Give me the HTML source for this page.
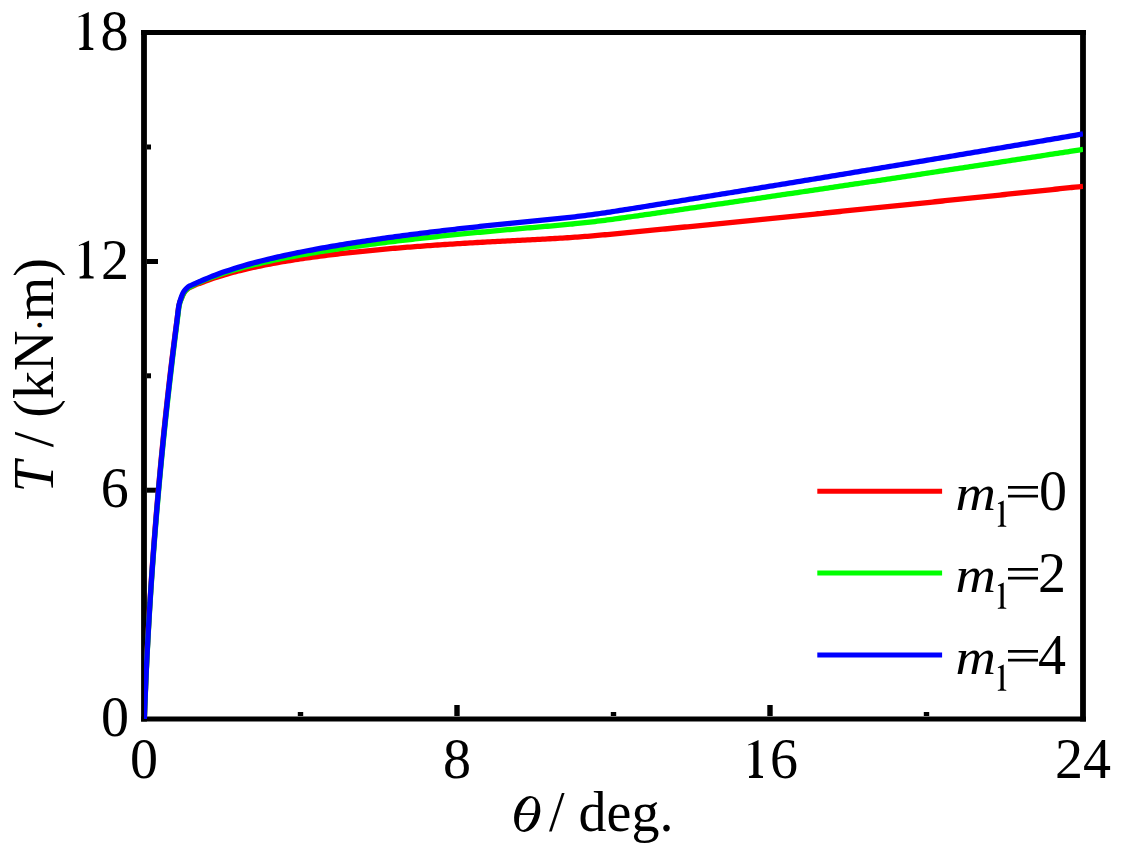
<!DOCTYPE html>
<html><head><meta charset="utf-8"><style>
html,body{margin:0;padding:0;background:#fff;}
svg{display:block;}
text{font-family:"Liberation Serif",serif;fill:#000;}
</style></head><body>
<svg width="1125" height="860" viewBox="0 0 1125 860">
<rect width="1125" height="860" fill="#fff"/>
<g stroke="#000" fill="none" stroke-linecap="butt">
<!-- y ticks -->
<line x1="147" y1="261.5" x2="158" y2="261.5" stroke-width="5"/>
<line x1="147" y1="490.2" x2="158" y2="490.2" stroke-width="5"/>
<line x1="147" y1="147" x2="151" y2="147" stroke-width="5"/>
<line x1="147" y1="375.8" x2="151" y2="375.8" stroke-width="5"/>
<line x1="147" y1="604.6" x2="151" y2="604.6" stroke-width="5"/>
<!-- x ticks -->
<line x1="457" y1="716" x2="457" y2="705" stroke-width="5.4"/>
<line x1="770" y1="716" x2="770" y2="705" stroke-width="5.4"/>
<line x1="300.5" y1="716" x2="300.5" y2="712" stroke-width="5.4"/>
<line x1="613.5" y1="716" x2="613.5" y2="712" stroke-width="5.4"/>
<line x1="926.5" y1="716" x2="926.5" y2="712" stroke-width="5.4"/>
</g>
<path d="M141.1 32.5 H1085.9 M141.1 719 H1085.9" stroke="#000" stroke-width="5.2"/>
<path d="M144 29.9 V721.6 M1083 29.9 V721.6" stroke="#000" stroke-width="5.8"/>
<clipPath id="pc"><rect x="144" y="32.5" width="939" height="686.5"/></clipPath>
<g fill="none" stroke-width="5.3" stroke-linejoin="round" stroke-linecap="butt" clip-path="url(#pc)">
<path d="M144.35 719.00 C144.47 715.83 144.79 706.50 145.04 700.00 C145.29 693.50 145.57 686.67 145.86 680.00 C146.15 673.33 146.45 666.67 146.77 660.00 C147.09 653.33 147.42 646.67 147.78 640.00 C148.13 633.33 148.49 626.67 148.88 620.00 C149.26 613.33 149.66 606.67 150.07 600.00 C150.49 593.33 150.92 586.67 151.36 580.00 C151.81 573.33 152.27 566.67 152.75 560.00 C153.22 553.33 153.72 546.67 154.23 540.00 C154.74 533.33 155.26 526.67 155.80 520.00 C156.34 513.33 156.90 506.67 157.47 500.00 C158.04 493.33 158.63 486.67 159.24 480.00 C159.84 473.33 160.46 466.67 161.09 460.00 C161.73 453.33 162.38 446.67 163.05 440.00 C163.71 433.33 164.40 426.67 165.10 420.00 C165.79 413.33 166.51 406.67 167.24 400.00 C167.97 393.33 168.71 386.67 169.48 380.00 C170.25 373.33 171.04 366.67 171.86 360.00 C172.68 353.33 173.52 346.67 174.37 340.00 C175.23 333.33 176.21 325.83 176.98 320.00 C177.75 314.17 178.21 308.72 179.00 305.00 C179.79 301.28 180.92 299.62 181.70 297.70 C182.48 295.78 183.03 294.68 183.70 293.50 C184.37 292.32 184.93 291.47 185.70 290.60 C186.47 289.73 187.50 288.87 188.30 288.30 C189.10 287.73 189.38 287.73 190.50 287.20 C191.62 286.67 193.42 285.79 195.00 285.13 C196.58 284.46 198.33 283.83 200.00 283.20 C201.67 282.56 203.33 281.92 205.00 281.30 C206.67 280.68 208.33 280.08 210.00 279.49 C211.67 278.91 213.33 278.34 215.00 277.78 C216.67 277.23 218.33 276.69 220.00 276.17 C221.67 275.65 223.33 275.14 225.00 274.65 C226.67 274.16 228.33 273.68 230.00 273.22 C231.67 272.75 233.33 272.30 235.00 271.86 C236.67 271.42 238.33 270.99 240.00 270.57 C241.67 270.16 243.33 269.75 245.00 269.35 C246.67 268.96 248.33 268.57 250.00 268.19 C251.67 267.81 253.33 267.44 255.00 267.08 C256.67 266.72 258.33 266.37 260.00 266.03 C261.67 265.68 263.33 265.35 265.00 265.02 C266.67 264.69 268.33 264.36 270.00 264.05 C271.67 263.73 273.33 263.42 275.00 263.12 C276.67 262.82 278.33 262.52 280.00 262.23 C281.67 261.94 283.33 261.65 285.00 261.37 C286.67 261.09 288.33 260.82 290.00 260.55 C291.67 260.28 293.33 260.01 295.00 259.75 C296.67 259.49 298.33 259.24 300.00 258.99 C301.67 258.74 303.33 258.49 305.00 258.25 C306.67 258.01 308.33 257.77 310.00 257.53 C311.67 257.30 313.33 257.07 315.00 256.84 C316.67 256.62 318.33 256.40 320.00 256.18 C321.67 255.96 323.33 255.74 325.00 255.53 C326.67 255.32 328.33 255.11 330.00 254.91 C331.67 254.70 333.33 254.50 335.00 254.30 C336.67 254.10 338.33 253.91 340.00 253.71 C341.67 253.52 343.33 253.33 345.00 253.14 C346.67 252.96 348.33 252.77 350.00 252.59 C351.67 252.41 353.33 252.23 355.00 252.05 C356.67 251.88 358.33 251.70 360.00 251.53 C361.67 251.36 363.33 251.19 365.00 251.02 C366.67 250.86 368.33 250.69 370.00 250.53 C371.67 250.37 373.33 250.21 375.00 250.05 C376.67 249.89 378.33 249.74 380.00 249.59 C381.67 249.43 383.33 249.28 385.00 249.13 C386.67 248.98 388.33 248.83 390.00 248.69 C391.67 248.54 393.33 248.40 395.00 248.26 C396.67 248.12 398.33 247.98 400.00 247.84 C401.67 247.70 403.33 247.57 405.00 247.43 C406.67 247.30 408.33 247.16 410.00 247.03 C411.67 246.90 413.33 246.77 415.00 246.65 C416.67 246.52 418.33 246.39 420.00 246.27 C421.67 246.14 423.33 246.02 425.00 245.90 C426.67 245.78 428.33 245.66 430.00 245.54 C431.67 245.42 433.33 245.30 435.00 245.19 C436.67 245.07 438.33 244.96 440.00 244.85 C441.67 244.73 443.33 244.62 445.00 244.51 C446.67 244.40 448.33 244.29 450.00 244.18 C451.67 244.07 453.33 243.97 455.00 243.86 C456.67 243.76 458.33 243.65 460.00 243.55 C461.67 243.45 463.33 243.35 465.00 243.25 C466.67 243.15 468.33 243.05 470.00 242.95 C471.67 242.85 473.33 242.75 475.00 242.66 C476.67 242.56 478.33 242.47 480.00 242.37 C481.67 242.28 483.33 242.19 485.00 242.10 C486.67 242.00 488.33 241.91 490.00 241.82 C491.67 241.73 493.33 241.64 495.00 241.56 C496.67 241.47 498.33 241.38 500.00 241.29 C501.67 241.21 503.33 241.12 505.00 241.04 C506.67 240.95 508.33 240.87 510.00 240.78 C511.67 240.70 513.33 240.61 515.00 240.53 C516.67 240.45 518.33 240.37 520.00 240.28 C521.67 240.20 523.33 240.12 525.00 240.04 C526.67 239.96 528.33 239.87 530.00 239.79 C531.67 239.71 533.33 239.63 535.00 239.54 C536.67 239.46 538.33 239.38 540.00 239.29 C541.67 239.21 543.33 239.12 545.00 239.04 C546.67 238.95 548.33 238.86 550.00 238.77 C551.67 238.68 553.33 238.59 555.00 238.50 C556.67 238.40 558.33 238.31 560.00 238.21 C561.67 238.11 563.33 238.01 565.00 237.90 C566.67 237.80 568.33 237.69 570.00 237.58 C571.67 237.46 573.33 237.35 575.00 237.23 C576.67 237.11 578.33 236.99 580.00 236.86 C581.67 236.74 583.33 236.61 585.00 236.48 C586.67 236.35 588.33 236.21 590.00 236.07 C591.67 235.93 593.33 235.79 595.00 235.65 C596.67 235.50 598.33 235.36 600.00 235.21 C601.67 235.06 603.33 234.91 605.00 234.76 C606.67 234.61 608.33 234.46 610.00 234.30 C611.67 234.15 613.33 233.99 615.00 233.84 C616.67 233.68 618.33 233.52 620.00 233.36 C621.67 233.20 623.33 233.04 625.00 232.88 C626.67 232.73 628.33 232.56 630.00 232.40 C631.67 232.24 633.33 232.08 635.00 231.92 C636.67 231.76 638.33 231.60 640.00 231.43 C641.67 231.27 643.33 231.11 645.00 230.95 C646.67 230.78 648.33 230.62 650.00 230.46 C651.67 230.30 653.33 230.13 655.00 229.97 C656.67 229.80 658.33 229.64 660.00 229.48 C661.67 229.31 663.33 229.15 665.00 228.99 C666.67 228.82 668.33 228.66 670.00 228.49 C671.67 228.33 673.33 228.17 675.00 228.00 C676.67 227.84 678.33 227.67 680.00 227.51 C681.67 227.34 683.33 227.18 685.00 227.01 C686.67 226.85 688.33 226.69 690.00 226.52 C691.67 226.36 693.33 226.19 695.00 226.03 C696.67 225.86 698.33 225.70 700.00 225.53 C701.67 225.37 703.33 225.20 705.00 225.04 C706.67 224.87 708.33 224.70 710.00 224.54 C711.67 224.37 713.33 224.21 715.00 224.04 C716.67 223.88 718.33 223.71 720.00 223.55 C721.67 223.38 723.33 223.21 725.00 223.05 C726.67 222.88 728.33 222.72 730.00 222.55 C731.67 222.38 733.33 222.22 735.00 222.05 C736.67 221.89 738.33 221.72 740.00 221.55 C741.67 221.39 743.33 221.22 745.00 221.05 C746.67 220.89 748.33 220.72 750.00 220.56 C751.67 220.39 753.33 220.22 755.00 220.06 C756.67 219.89 758.33 219.72 760.00 219.55 C761.67 219.39 763.33 219.22 765.00 219.05 C766.67 218.89 768.33 218.72 770.00 218.55 C771.67 218.39 773.33 218.22 775.00 218.05 C776.67 217.88 778.33 217.72 780.00 217.55 C781.67 217.38 783.33 217.21 785.00 217.05 C786.67 216.88 788.33 216.71 790.00 216.54 C791.67 216.38 793.33 216.21 795.00 216.04 C796.67 215.87 798.33 215.70 800.00 215.54 C801.67 215.37 803.33 215.20 805.00 215.03 C806.67 214.86 808.33 214.70 810.00 214.53 C811.67 214.36 813.33 214.19 815.00 214.02 C816.67 213.85 818.33 213.68 820.00 213.52 C821.67 213.35 823.33 213.18 825.00 213.01 C826.67 212.84 828.33 212.67 830.00 212.50 C831.67 212.33 833.33 212.17 835.00 212.00 C836.67 211.83 838.33 211.66 840.00 211.49 C841.67 211.32 843.33 211.15 845.00 210.98 C846.67 210.81 848.33 210.64 850.00 210.47 C851.67 210.30 853.33 210.13 855.00 209.96 C856.67 209.79 858.33 209.62 860.00 209.45 C861.67 209.28 863.33 209.11 865.00 208.95 C866.67 208.78 868.33 208.61 870.00 208.43 C871.67 208.26 873.33 208.09 875.00 207.92 C876.67 207.75 878.33 207.58 880.00 207.41 C881.67 207.24 883.33 207.07 885.00 206.90 C886.67 206.73 888.33 206.56 890.00 206.39 C891.67 206.22 893.33 206.05 895.00 205.88 C896.67 205.71 898.33 205.54 900.00 205.37 C901.67 205.19 903.33 205.02 905.00 204.85 C906.67 204.68 908.33 204.51 910.00 204.34 C911.67 204.17 913.33 204.00 915.00 203.82 C916.67 203.65 918.33 203.48 920.00 203.31 C921.67 203.14 923.33 202.97 925.00 202.80 C926.67 202.62 928.33 202.45 930.00 202.28 C931.67 202.11 933.33 201.94 935.00 201.76 C936.67 201.59 938.33 201.42 940.00 201.25 C941.67 201.08 943.33 200.90 945.00 200.73 C946.67 200.56 948.33 200.39 950.00 200.21 C951.67 200.04 953.33 199.87 955.00 199.70 C956.67 199.52 958.33 199.35 960.00 199.18 C961.67 199.01 963.33 198.83 965.00 198.66 C966.67 198.49 968.33 198.31 970.00 198.14 C971.67 197.97 973.33 197.80 975.00 197.62 C976.67 197.45 978.33 197.28 980.00 197.10 C981.67 196.93 983.33 196.76 985.00 196.58 C986.67 196.41 988.33 196.24 990.00 196.06 C991.67 195.89 993.33 195.71 995.00 195.54 C996.67 195.37 998.33 195.19 1000.00 195.02 C1001.67 194.85 1003.33 194.67 1005.00 194.50 C1006.67 194.32 1008.33 194.15 1010.00 193.98 C1011.67 193.80 1013.33 193.63 1015.00 193.45 C1016.67 193.28 1018.33 193.10 1020.00 192.93 C1021.67 192.75 1023.33 192.58 1025.00 192.41 C1026.67 192.23 1028.33 192.06 1030.00 191.88 C1031.67 191.71 1033.33 191.53 1035.00 191.36 C1036.67 191.18 1038.33 191.01 1040.00 190.83 C1041.67 190.66 1043.33 190.48 1045.00 190.31 C1046.67 190.13 1048.33 189.96 1050.00 189.78 C1051.67 189.61 1053.33 189.43 1055.00 189.25 C1056.67 189.08 1058.33 188.90 1060.00 188.73 C1061.67 188.55 1063.33 188.38 1065.00 188.20 C1066.67 188.02 1068.33 187.85 1070.00 187.67 C1071.67 187.50 1072.83 187.37 1075.00 187.15 C1077.17 186.92 1081.67 186.44 1083.00 186.30" stroke="#ff0000"/>
<path d="M144.35 719.00 C144.47 715.83 144.81 706.50 145.07 700.00 C145.33 693.50 145.62 686.67 145.92 680.00 C146.22 673.33 146.53 666.67 146.87 660.00 C147.20 653.33 147.54 646.67 147.90 640.00 C148.27 633.33 148.64 626.67 149.04 620.00 C149.43 613.33 149.84 606.67 150.26 600.00 C150.69 593.33 151.13 586.67 151.59 580.00 C152.04 573.33 152.52 566.67 153.01 560.00 C153.49 553.33 154.00 546.67 154.52 540.00 C155.04 533.33 155.57 526.67 156.12 520.00 C156.68 513.33 157.24 506.67 157.83 500.00 C158.41 493.33 159.01 486.67 159.62 480.00 C160.24 473.33 160.87 466.67 161.51 460.00 C162.16 453.33 162.82 446.67 163.50 440.00 C164.18 433.33 164.87 426.67 165.58 420.00 C166.29 413.33 167.02 406.67 167.76 400.00 C168.50 393.33 169.26 386.67 170.03 380.00 C170.80 373.33 171.58 366.67 172.37 360.00 C173.17 353.33 173.99 346.67 174.82 340.00 C175.65 333.33 176.60 325.83 177.35 320.00 C178.10 314.17 178.56 308.80 179.32 305.00 C180.08 301.20 181.15 299.22 181.90 297.20 C182.65 295.18 183.13 294.08 183.80 292.90 C184.47 291.72 185.13 290.95 185.90 290.10 C186.67 289.25 187.63 288.37 188.40 287.80 C189.17 287.23 189.40 287.32 190.50 286.70 C191.60 286.08 193.42 284.89 195.00 284.09 C196.58 283.30 198.33 282.65 200.00 281.95 C201.67 281.26 203.33 280.57 205.00 279.90 C206.67 279.23 208.33 278.59 210.00 277.96 C211.67 277.33 213.33 276.72 215.00 276.13 C216.67 275.54 218.33 274.96 220.00 274.40 C221.67 273.84 223.33 273.30 225.00 272.77 C226.67 272.24 228.33 271.73 230.00 271.22 C231.67 270.72 233.33 270.23 235.00 269.75 C236.67 269.27 238.33 268.81 240.00 268.35 C241.67 267.89 243.33 267.45 245.00 267.01 C246.67 266.57 248.33 266.15 250.00 265.73 C251.67 265.31 253.33 264.90 255.00 264.50 C256.67 264.10 258.33 263.70 260.00 263.31 C261.67 262.93 263.33 262.55 265.00 262.17 C266.67 261.80 268.33 261.43 270.00 261.07 C271.67 260.71 273.33 260.36 275.00 260.01 C276.67 259.66 278.33 259.32 280.00 258.98 C281.67 258.64 283.33 258.31 285.00 257.98 C286.67 257.65 288.33 257.33 290.00 257.01 C291.67 256.70 293.33 256.38 295.00 256.07 C296.67 255.77 298.33 255.46 300.00 255.16 C301.67 254.86 303.33 254.57 305.00 254.27 C306.67 253.98 308.33 253.69 310.00 253.41 C311.67 253.12 313.33 252.84 315.00 252.56 C316.67 252.29 318.33 252.01 320.00 251.74 C321.67 251.47 323.33 251.20 325.00 250.94 C326.67 250.67 328.33 250.41 330.00 250.15 C331.67 249.89 333.33 249.64 335.00 249.38 C336.67 249.13 338.33 248.88 340.00 248.63 C341.67 248.39 343.33 248.14 345.00 247.90 C346.67 247.66 348.33 247.42 350.00 247.18 C351.67 246.94 353.33 246.71 355.00 246.48 C356.67 246.24 358.33 246.01 360.00 245.79 C361.67 245.56 363.33 245.33 365.00 245.11 C366.67 244.88 368.33 244.66 370.00 244.44 C371.67 244.22 373.33 244.01 375.00 243.79 C376.67 243.57 378.33 243.36 380.00 243.15 C381.67 242.94 383.33 242.73 385.00 242.52 C386.67 242.31 388.33 242.11 390.00 241.90 C391.67 241.70 393.33 241.49 395.00 241.29 C396.67 241.09 398.33 240.89 400.00 240.70 C401.67 240.50 403.33 240.30 405.00 240.11 C406.67 239.91 408.33 239.72 410.00 239.53 C411.67 239.34 413.33 239.15 415.00 238.96 C416.67 238.77 418.33 238.58 420.00 238.40 C421.67 238.21 423.33 238.03 425.00 237.84 C426.67 237.66 428.33 237.48 430.00 237.30 C431.67 237.12 433.33 236.94 435.00 236.76 C436.67 236.59 438.33 236.41 440.00 236.23 C441.67 236.06 443.33 235.89 445.00 235.71 C446.67 235.54 448.33 235.37 450.00 235.20 C451.67 235.03 453.33 234.86 455.00 234.69 C456.67 234.52 458.33 234.35 460.00 234.19 C461.67 234.02 463.33 233.86 465.00 233.69 C466.67 233.53 468.33 233.37 470.00 233.21 C471.67 233.04 473.33 232.88 475.00 232.72 C476.67 232.56 478.33 232.41 480.00 232.25 C481.67 232.09 483.33 231.93 485.00 231.78 C486.67 231.62 488.33 231.47 490.00 231.31 C491.67 231.16 493.33 231.01 495.00 230.85 C496.67 230.70 498.33 230.55 500.00 230.40 C501.67 230.25 503.33 230.10 505.00 229.95 C506.67 229.80 508.33 229.65 510.00 229.50 C511.67 229.36 513.33 229.21 515.00 229.06 C516.67 228.92 518.33 228.77 520.00 228.63 C521.67 228.48 523.33 228.34 525.00 228.19 C526.67 228.05 528.33 227.90 530.00 227.76 C531.67 227.62 533.33 227.47 535.00 227.33 C536.67 227.19 538.33 227.04 540.00 226.90 C541.67 226.76 543.33 226.61 545.00 226.47 C546.67 226.33 548.33 226.18 550.00 226.04 C551.67 225.89 553.33 225.75 555.00 225.60 C556.67 225.45 558.33 225.30 560.00 225.15 C561.67 225.00 563.33 224.85 565.00 224.70 C566.67 224.54 568.33 224.38 570.00 224.22 C571.67 224.06 573.33 223.90 575.00 223.73 C576.67 223.56 578.33 223.39 580.00 223.22 C581.67 223.04 583.33 222.86 585.00 222.68 C586.67 222.49 588.33 222.31 590.00 222.11 C591.67 221.92 593.33 221.72 595.00 221.52 C596.67 221.32 598.33 221.11 600.00 220.90 C601.67 220.69 603.33 220.48 605.00 220.26 C606.67 220.05 608.33 219.83 610.00 219.61 C611.67 219.38 613.33 219.16 615.00 218.93 C616.67 218.71 618.33 218.48 620.00 218.25 C621.67 218.02 623.33 217.79 625.00 217.55 C626.67 217.32 628.33 217.09 630.00 216.85 C631.67 216.62 633.33 216.38 635.00 216.15 C636.67 215.91 638.33 215.67 640.00 215.44 C641.67 215.20 643.33 214.96 645.00 214.72 C646.67 214.48 648.33 214.25 650.00 214.01 C651.67 213.77 653.33 213.53 655.00 213.29 C656.67 213.05 658.33 212.81 660.00 212.57 C661.67 212.33 663.33 212.09 665.00 211.85 C666.67 211.61 668.33 211.37 670.00 211.13 C671.67 210.89 673.33 210.65 675.00 210.41 C676.67 210.17 678.33 209.93 680.00 209.68 C681.67 209.44 683.33 209.20 685.00 208.96 C686.67 208.72 688.33 208.48 690.00 208.24 C691.67 208.00 693.33 207.75 695.00 207.51 C696.67 207.27 698.33 207.03 700.00 206.79 C701.67 206.54 703.33 206.30 705.00 206.06 C706.67 205.82 708.33 205.58 710.00 205.33 C711.67 205.09 713.33 204.85 715.00 204.61 C716.67 204.36 718.33 204.12 720.00 203.88 C721.67 203.64 723.33 203.39 725.00 203.15 C726.67 202.91 728.33 202.66 730.00 202.42 C731.67 202.18 733.33 201.93 735.00 201.69 C736.67 201.45 738.33 201.20 740.00 200.96 C741.67 200.72 743.33 200.47 745.00 200.23 C746.67 199.98 748.33 199.74 750.00 199.50 C751.67 199.25 753.33 199.01 755.00 198.76 C756.67 198.52 758.33 198.28 760.00 198.03 C761.67 197.79 763.33 197.54 765.00 197.30 C766.67 197.05 768.33 196.81 770.00 196.56 C771.67 196.32 773.33 196.07 775.00 195.83 C776.67 195.58 778.33 195.34 780.00 195.09 C781.67 194.85 783.33 194.60 785.00 194.36 C786.67 194.11 788.33 193.87 790.00 193.62 C791.67 193.38 793.33 193.13 795.00 192.88 C796.67 192.64 798.33 192.39 800.00 192.15 C801.67 191.90 803.33 191.65 805.00 191.41 C806.67 191.16 808.33 190.92 810.00 190.67 C811.67 190.42 813.33 190.18 815.00 189.93 C816.67 189.68 818.33 189.44 820.00 189.19 C821.67 188.94 823.33 188.70 825.00 188.45 C826.67 188.20 828.33 187.95 830.00 187.71 C831.67 187.46 833.33 187.21 835.00 186.97 C836.67 186.72 838.33 186.47 840.00 186.22 C841.67 185.97 843.33 185.73 845.00 185.48 C846.67 185.23 848.33 184.98 850.00 184.74 C851.67 184.49 853.33 184.24 855.00 183.99 C856.67 183.74 858.33 183.49 860.00 183.25 C861.67 183.00 863.33 182.75 865.00 182.50 C866.67 182.25 868.33 182.00 870.00 181.75 C871.67 181.51 873.33 181.26 875.00 181.01 C876.67 180.76 878.33 180.51 880.00 180.26 C881.67 180.01 883.33 179.76 885.00 179.51 C886.67 179.26 888.33 179.01 890.00 178.76 C891.67 178.51 893.33 178.26 895.00 178.01 C896.67 177.76 898.33 177.51 900.00 177.26 C901.67 177.01 903.33 176.76 905.00 176.51 C906.67 176.26 908.33 176.01 910.00 175.76 C911.67 175.51 913.33 175.26 915.00 175.01 C916.67 174.76 918.33 174.51 920.00 174.26 C921.67 174.01 923.33 173.76 925.00 173.50 C926.67 173.25 928.33 173.00 930.00 172.75 C931.67 172.50 933.33 172.25 935.00 172.00 C936.67 171.75 938.33 171.49 940.00 171.24 C941.67 170.99 943.33 170.74 945.00 170.49 C946.67 170.24 948.33 169.98 950.00 169.73 C951.67 169.48 953.33 169.23 955.00 168.97 C956.67 168.72 958.33 168.47 960.00 168.22 C961.67 167.96 963.33 167.71 965.00 167.46 C966.67 167.21 968.33 166.95 970.00 166.70 C971.67 166.45 973.33 166.20 975.00 165.94 C976.67 165.69 978.33 165.44 980.00 165.18 C981.67 164.93 983.33 164.68 985.00 164.42 C986.67 164.17 988.33 163.92 990.00 163.66 C991.67 163.41 993.33 163.15 995.00 162.90 C996.67 162.65 998.33 162.39 1000.00 162.14 C1001.67 161.88 1003.33 161.63 1005.00 161.38 C1006.67 161.12 1008.33 160.87 1010.00 160.61 C1011.67 160.36 1013.33 160.10 1015.00 159.85 C1016.67 159.59 1018.33 159.34 1020.00 159.08 C1021.67 158.83 1023.33 158.57 1025.00 158.32 C1026.67 158.06 1028.33 157.81 1030.00 157.55 C1031.67 157.30 1033.33 157.04 1035.00 156.79 C1036.67 156.53 1038.33 156.28 1040.00 156.02 C1041.67 155.76 1043.33 155.51 1045.00 155.25 C1046.67 155.00 1048.33 154.74 1050.00 154.48 C1051.67 154.23 1053.33 153.97 1055.00 153.72 C1056.67 153.46 1058.33 153.20 1060.00 152.95 C1061.67 152.69 1063.33 152.43 1065.00 152.18 C1066.67 151.92 1068.33 151.66 1070.00 151.41 C1071.67 151.15 1072.83 150.97 1075.00 150.63 C1077.17 150.30 1081.67 149.61 1083.00 149.40" stroke="#00ff00"/>
<path d="M144.35 719.00 C144.47 715.83 144.80 706.50 145.06 700.00 C145.31 693.50 145.59 686.67 145.89 680.00 C146.18 673.33 146.49 666.67 146.81 660.00 C147.14 653.33 147.48 646.67 147.83 640.00 C148.19 633.33 148.56 626.67 148.95 620.00 C149.34 613.33 149.74 606.67 150.16 600.00 C150.58 593.33 151.01 586.67 151.46 580.00 C151.92 573.33 152.38 566.67 152.86 560.00 C153.35 553.33 153.85 546.67 154.36 540.00 C154.87 533.33 155.40 526.67 155.95 520.00 C156.49 513.33 157.06 506.67 157.63 500.00 C158.21 493.33 158.80 486.67 159.41 480.00 C160.02 473.33 160.64 466.67 161.29 460.00 C161.93 453.33 162.58 446.67 163.25 440.00 C163.93 433.33 164.61 426.67 165.32 420.00 C166.02 413.33 166.74 406.67 167.47 400.00 C168.21 393.33 168.96 386.67 169.73 380.00 C170.49 373.33 171.28 366.67 172.07 360.00 C172.87 353.33 173.69 346.67 174.52 340.00 C175.35 333.33 176.30 325.83 177.05 320.00 C177.80 314.17 178.28 308.90 179.02 305.00 C179.76 301.10 180.77 298.72 181.50 296.60 C182.23 294.48 182.73 293.48 183.40 292.30 C184.07 291.12 184.73 290.38 185.50 289.50 C186.27 288.62 187.25 287.62 188.00 287.00 C188.75 286.38 188.83 286.37 190.00 285.80 C191.17 285.23 193.33 284.33 195.00 283.59 C196.67 282.85 198.33 282.11 200.00 281.38 C201.67 280.65 203.33 279.92 205.00 279.22 C206.67 278.52 208.33 277.83 210.00 277.16 C211.67 276.49 213.33 275.83 215.00 275.20 C216.67 274.56 218.33 273.94 220.00 273.34 C221.67 272.74 223.33 272.15 225.00 271.58 C226.67 271.00 228.33 270.44 230.00 269.90 C231.67 269.35 233.33 268.82 235.00 268.30 C236.67 267.78 238.33 267.27 240.00 266.77 C241.67 266.27 243.33 265.78 245.00 265.31 C246.67 264.83 248.33 264.36 250.00 263.90 C251.67 263.44 253.33 262.99 255.00 262.55 C256.67 262.11 258.33 261.68 260.00 261.25 C261.67 260.82 263.33 260.40 265.00 259.99 C266.67 259.58 268.33 259.18 270.00 258.78 C271.67 258.38 273.33 257.99 275.00 257.61 C276.67 257.22 278.33 256.84 280.00 256.47 C281.67 256.10 283.33 255.73 285.00 255.37 C286.67 255.00 288.33 254.65 290.00 254.29 C291.67 253.94 293.33 253.60 295.00 253.25 C296.67 252.91 298.33 252.57 300.00 252.24 C301.67 251.91 303.33 251.58 305.00 251.25 C306.67 250.93 308.33 250.61 310.00 250.29 C311.67 249.97 313.33 249.66 315.00 249.35 C316.67 249.04 318.33 248.74 320.00 248.43 C321.67 248.13 323.33 247.83 325.00 247.54 C326.67 247.24 328.33 246.95 330.00 246.66 C331.67 246.37 333.33 246.09 335.00 245.81 C336.67 245.52 338.33 245.24 340.00 244.97 C341.67 244.69 343.33 244.42 345.00 244.15 C346.67 243.87 348.33 243.61 350.00 243.34 C351.67 243.07 353.33 242.81 355.00 242.55 C356.67 242.29 358.33 242.03 360.00 241.78 C361.67 241.52 363.33 241.27 365.00 241.02 C366.67 240.77 368.33 240.52 370.00 240.27 C371.67 240.02 373.33 239.78 375.00 239.54 C376.67 239.29 378.33 239.05 380.00 238.82 C381.67 238.58 383.33 238.34 385.00 238.11 C386.67 237.87 388.33 237.64 390.00 237.41 C391.67 237.18 393.33 236.95 395.00 236.73 C396.67 236.50 398.33 236.28 400.00 236.05 C401.67 235.83 403.33 235.61 405.00 235.39 C406.67 235.17 408.33 234.95 410.00 234.74 C411.67 234.52 413.33 234.31 415.00 234.09 C416.67 233.88 418.33 233.67 420.00 233.46 C421.67 233.25 423.33 233.04 425.00 232.83 C426.67 232.63 428.33 232.42 430.00 232.22 C431.67 232.02 433.33 231.81 435.00 231.61 C436.67 231.41 438.33 231.21 440.00 231.01 C441.67 230.81 443.33 230.62 445.00 230.42 C446.67 230.23 448.33 230.03 450.00 229.84 C451.67 229.64 453.33 229.45 455.00 229.26 C456.67 229.07 458.33 228.88 460.00 228.69 C461.67 228.51 463.33 228.32 465.00 228.13 C466.67 227.95 468.33 227.76 470.00 227.58 C471.67 227.39 473.33 227.21 475.00 227.03 C476.67 226.85 478.33 226.67 480.00 226.49 C481.67 226.31 483.33 226.13 485.00 225.95 C486.67 225.78 488.33 225.60 490.00 225.43 C491.67 225.25 493.33 225.08 495.00 224.90 C496.67 224.73 498.33 224.56 500.00 224.39 C501.67 224.21 503.33 224.04 505.00 223.87 C506.67 223.70 508.33 223.54 510.00 223.37 C511.67 223.20 513.33 223.03 515.00 222.86 C516.67 222.70 518.33 222.53 520.00 222.37 C521.67 222.20 523.33 222.04 525.00 221.87 C526.67 221.71 528.33 221.54 530.00 221.38 C531.67 221.22 533.33 221.05 535.00 220.89 C536.67 220.73 538.33 220.56 540.00 220.40 C541.67 220.24 543.33 220.07 545.00 219.91 C546.67 219.75 548.33 219.58 550.00 219.42 C551.67 219.25 553.33 219.09 555.00 218.92 C556.67 218.75 558.33 218.58 560.00 218.41 C561.67 218.24 563.33 218.06 565.00 217.88 C566.67 217.71 568.33 217.53 570.00 217.34 C571.67 217.16 573.33 216.97 575.00 216.78 C576.67 216.58 578.33 216.38 580.00 216.18 C581.67 215.98 583.33 215.77 585.00 215.56 C586.67 215.34 588.33 215.12 590.00 214.90 C591.67 214.68 593.33 214.45 595.00 214.22 C596.67 213.98 598.33 213.74 600.00 213.50 C601.67 213.26 603.33 213.02 605.00 212.77 C606.67 212.52 608.33 212.27 610.00 212.01 C611.67 211.76 613.33 211.51 615.00 211.25 C616.67 210.99 618.33 210.73 620.00 210.47 C621.67 210.21 623.33 209.95 625.00 209.68 C626.67 209.42 628.33 209.16 630.00 208.89 C631.67 208.63 633.33 208.36 635.00 208.10 C636.67 207.83 638.33 207.56 640.00 207.30 C641.67 207.03 643.33 206.76 645.00 206.50 C646.67 206.23 648.33 205.96 650.00 205.69 C651.67 205.43 653.33 205.16 655.00 204.89 C656.67 204.62 658.33 204.35 660.00 204.09 C661.67 203.82 663.33 203.55 665.00 203.28 C666.67 203.01 668.33 202.74 670.00 202.47 C671.67 202.20 673.33 201.94 675.00 201.67 C676.67 201.40 678.33 201.13 680.00 200.86 C681.67 200.59 683.33 200.32 685.00 200.05 C686.67 199.78 688.33 199.51 690.00 199.24 C691.67 198.97 693.33 198.70 695.00 198.43 C696.67 198.16 698.33 197.89 700.00 197.62 C701.67 197.35 703.33 197.08 705.00 196.81 C706.67 196.54 708.33 196.27 710.00 196.00 C711.67 195.73 713.33 195.46 715.00 195.19 C716.67 194.91 718.33 194.64 720.00 194.37 C721.67 194.10 723.33 193.83 725.00 193.56 C726.67 193.29 728.33 193.02 730.00 192.75 C731.67 192.47 733.33 192.20 735.00 191.93 C736.67 191.66 738.33 191.39 740.00 191.12 C741.67 190.85 743.33 190.57 745.00 190.30 C746.67 190.03 748.33 189.76 750.00 189.49 C751.67 189.21 753.33 188.94 755.00 188.67 C756.67 188.40 758.33 188.12 760.00 187.85 C761.67 187.58 763.33 187.31 765.00 187.03 C766.67 186.76 768.33 186.49 770.00 186.22 C771.67 185.94 773.33 185.67 775.00 185.40 C776.67 185.13 778.33 184.85 780.00 184.58 C781.67 184.31 783.33 184.03 785.00 183.76 C786.67 183.49 788.33 183.21 790.00 182.94 C791.67 182.67 793.33 182.39 795.00 182.12 C796.67 181.84 798.33 181.57 800.00 181.30 C801.67 181.02 803.33 180.75 805.00 180.48 C806.67 180.20 808.33 179.93 810.00 179.65 C811.67 179.38 813.33 179.10 815.00 178.83 C816.67 178.56 818.33 178.28 820.00 178.01 C821.67 177.73 823.33 177.46 825.00 177.18 C826.67 176.91 828.33 176.63 830.00 176.36 C831.67 176.08 833.33 175.81 835.00 175.53 C836.67 175.26 838.33 174.98 840.00 174.71 C841.67 174.43 843.33 174.16 845.00 173.88 C846.67 173.61 848.33 173.33 850.00 173.05 C851.67 172.78 853.33 172.50 855.00 172.23 C856.67 171.95 858.33 171.68 860.00 171.40 C861.67 171.12 863.33 170.85 865.00 170.57 C866.67 170.29 868.33 170.02 870.00 169.74 C871.67 169.47 873.33 169.19 875.00 168.91 C876.67 168.64 878.33 168.36 880.00 168.08 C881.67 167.81 883.33 167.53 885.00 167.25 C886.67 166.98 888.33 166.70 890.00 166.42 C891.67 166.14 893.33 165.87 895.00 165.59 C896.67 165.31 898.33 165.03 900.00 164.76 C901.67 164.48 903.33 164.20 905.00 163.92 C906.67 163.65 908.33 163.37 910.00 163.09 C911.67 162.81 913.33 162.54 915.00 162.26 C916.67 161.98 918.33 161.70 920.00 161.42 C921.67 161.15 923.33 160.87 925.00 160.59 C926.67 160.31 928.33 160.03 930.00 159.75 C931.67 159.47 933.33 159.20 935.00 158.92 C936.67 158.64 938.33 158.36 940.00 158.08 C941.67 157.80 943.33 157.52 945.00 157.24 C946.67 156.96 948.33 156.69 950.00 156.41 C951.67 156.13 953.33 155.85 955.00 155.57 C956.67 155.29 958.33 155.01 960.00 154.73 C961.67 154.45 963.33 154.17 965.00 153.89 C966.67 153.61 968.33 153.33 970.00 153.05 C971.67 152.77 973.33 152.49 975.00 152.21 C976.67 151.93 978.33 151.65 980.00 151.37 C981.67 151.09 983.33 150.81 985.00 150.53 C986.67 150.25 988.33 149.97 990.00 149.69 C991.67 149.40 993.33 149.12 995.00 148.84 C996.67 148.56 998.33 148.28 1000.00 148.00 C1001.67 147.72 1003.33 147.44 1005.00 147.16 C1006.67 146.88 1008.33 146.59 1010.00 146.31 C1011.67 146.03 1013.33 145.75 1015.00 145.47 C1016.67 145.19 1018.33 144.90 1020.00 144.62 C1021.67 144.34 1023.33 144.06 1025.00 143.78 C1026.67 143.49 1028.33 143.21 1030.00 142.93 C1031.67 142.65 1033.33 142.37 1035.00 142.08 C1036.67 141.80 1038.33 141.52 1040.00 141.24 C1041.67 140.95 1043.33 140.67 1045.00 140.39 C1046.67 140.11 1048.33 139.82 1050.00 139.54 C1051.67 139.26 1053.33 138.97 1055.00 138.69 C1056.67 138.41 1058.33 138.12 1060.00 137.84 C1061.67 137.56 1063.33 137.27 1065.00 136.99 C1066.67 136.71 1068.33 136.42 1070.00 136.14 C1071.67 135.86 1072.83 135.66 1075.00 135.29 C1077.17 134.92 1081.67 134.15 1083.00 133.93" stroke="#0000ff"/>
</g>
<!-- legend -->
<g stroke-width="5">
<line x1="817.3" y1="491.3" x2="942.1" y2="491.3" stroke="#ff0000"/>
<line x1="817.3" y1="573.1" x2="942.1" y2="573.1" stroke="#00ff00"/>
<line x1="817.3" y1="654.9" x2="942.1" y2="654.9" stroke="#0000ff"/>
</g>
<g font-size="56">
<text transform="translate(955.6,510.3) scale(1,0.915)" font-style="italic">m</text>
<text transform="translate(955.6,592.3) scale(1,0.915)" font-style="italic">m</text>
<text transform="translate(955.6,674.3) scale(1,0.915)" font-style="italic">m</text>
<path id="one" d="M1003.7 500.4 L1003.7 524.6 Q1003.8 525.9 1006.3 526.0 L1006.3 526.8 L997.8 526.8 L997.8 526.0 Q1000.4 525.9 1000.5 524.6 L1000.5 505.2 Q1000.5 503.6 999.4 503.7 L998.1 504.0 L997.8 503.3 Z"/>
<use href="#one" y="82"/>
<use href="#one" y="164"/>
<rect x="1008" y="486" width="30" height="2.7"/>
<rect x="1008" y="494.8" width="30" height="2.7"/>
<rect x="1008" y="568" width="30" height="2.7"/>
<rect x="1008" y="576.8" width="30" height="2.7"/>
<rect x="1008" y="650" width="30" height="2.7"/>
<rect x="1008" y="658.8" width="30" height="2.7"/>
<text x="1039" y="510">0</text>
<text x="1038" y="592">2</text>
<text x="1038" y="674">4</text>
</g>
<g font-size="56" text-anchor="end">
<text x="128.6" y="50">8</text>
<text x="129" y="278.5">2</text>
<text x="128.8" y="507">6</text>
<text x="128.9" y="735.5">0</text>
</g>
<path id="one1" d="M9.5 -38 L9.5 -4 Q9.6 -2.3 14 -2.1 L14 0 L0 0 L0 -2.1 Q4.2 -2.3 4.3 -4 L4.3 -33.0 Q2.5 -34.0 -0.5 -32.6 L-0.9 -33.3 Z" transform="translate(79.3,50)"/>
<use href="#one1" x="0.3" y="228.5"/>
<use href="#one1" x="669.7" y="728"/>
<g font-size="56" text-anchor="middle">
<text x="144" y="778">0</text>
<text x="457" y="778">8</text>
<text x="770" y="778" text-anchor="start">6</text>
<text x="1083" y="778">24</text>
</g>
<g transform="translate(527.2,814) rotate(17.8)"><ellipse rx="12.4" ry="18.4" fill="#000"/><ellipse rx="7" ry="16.6" fill="#fff"/></g>
<rect x="520" y="813.1" width="14.5" height="1.9"/>
<text x="549" y="831" font-size="56">/ deg.</text>
<text transform="translate(53,375.3) rotate(-90)" font-size="56" text-anchor="middle"><tspan font-style="italic">T</tspan> / (kN<tspan font-size="40" dx="-1">·</tspan><tspan dx="-2">m)</tspan></text>
</svg>
</body></html>
